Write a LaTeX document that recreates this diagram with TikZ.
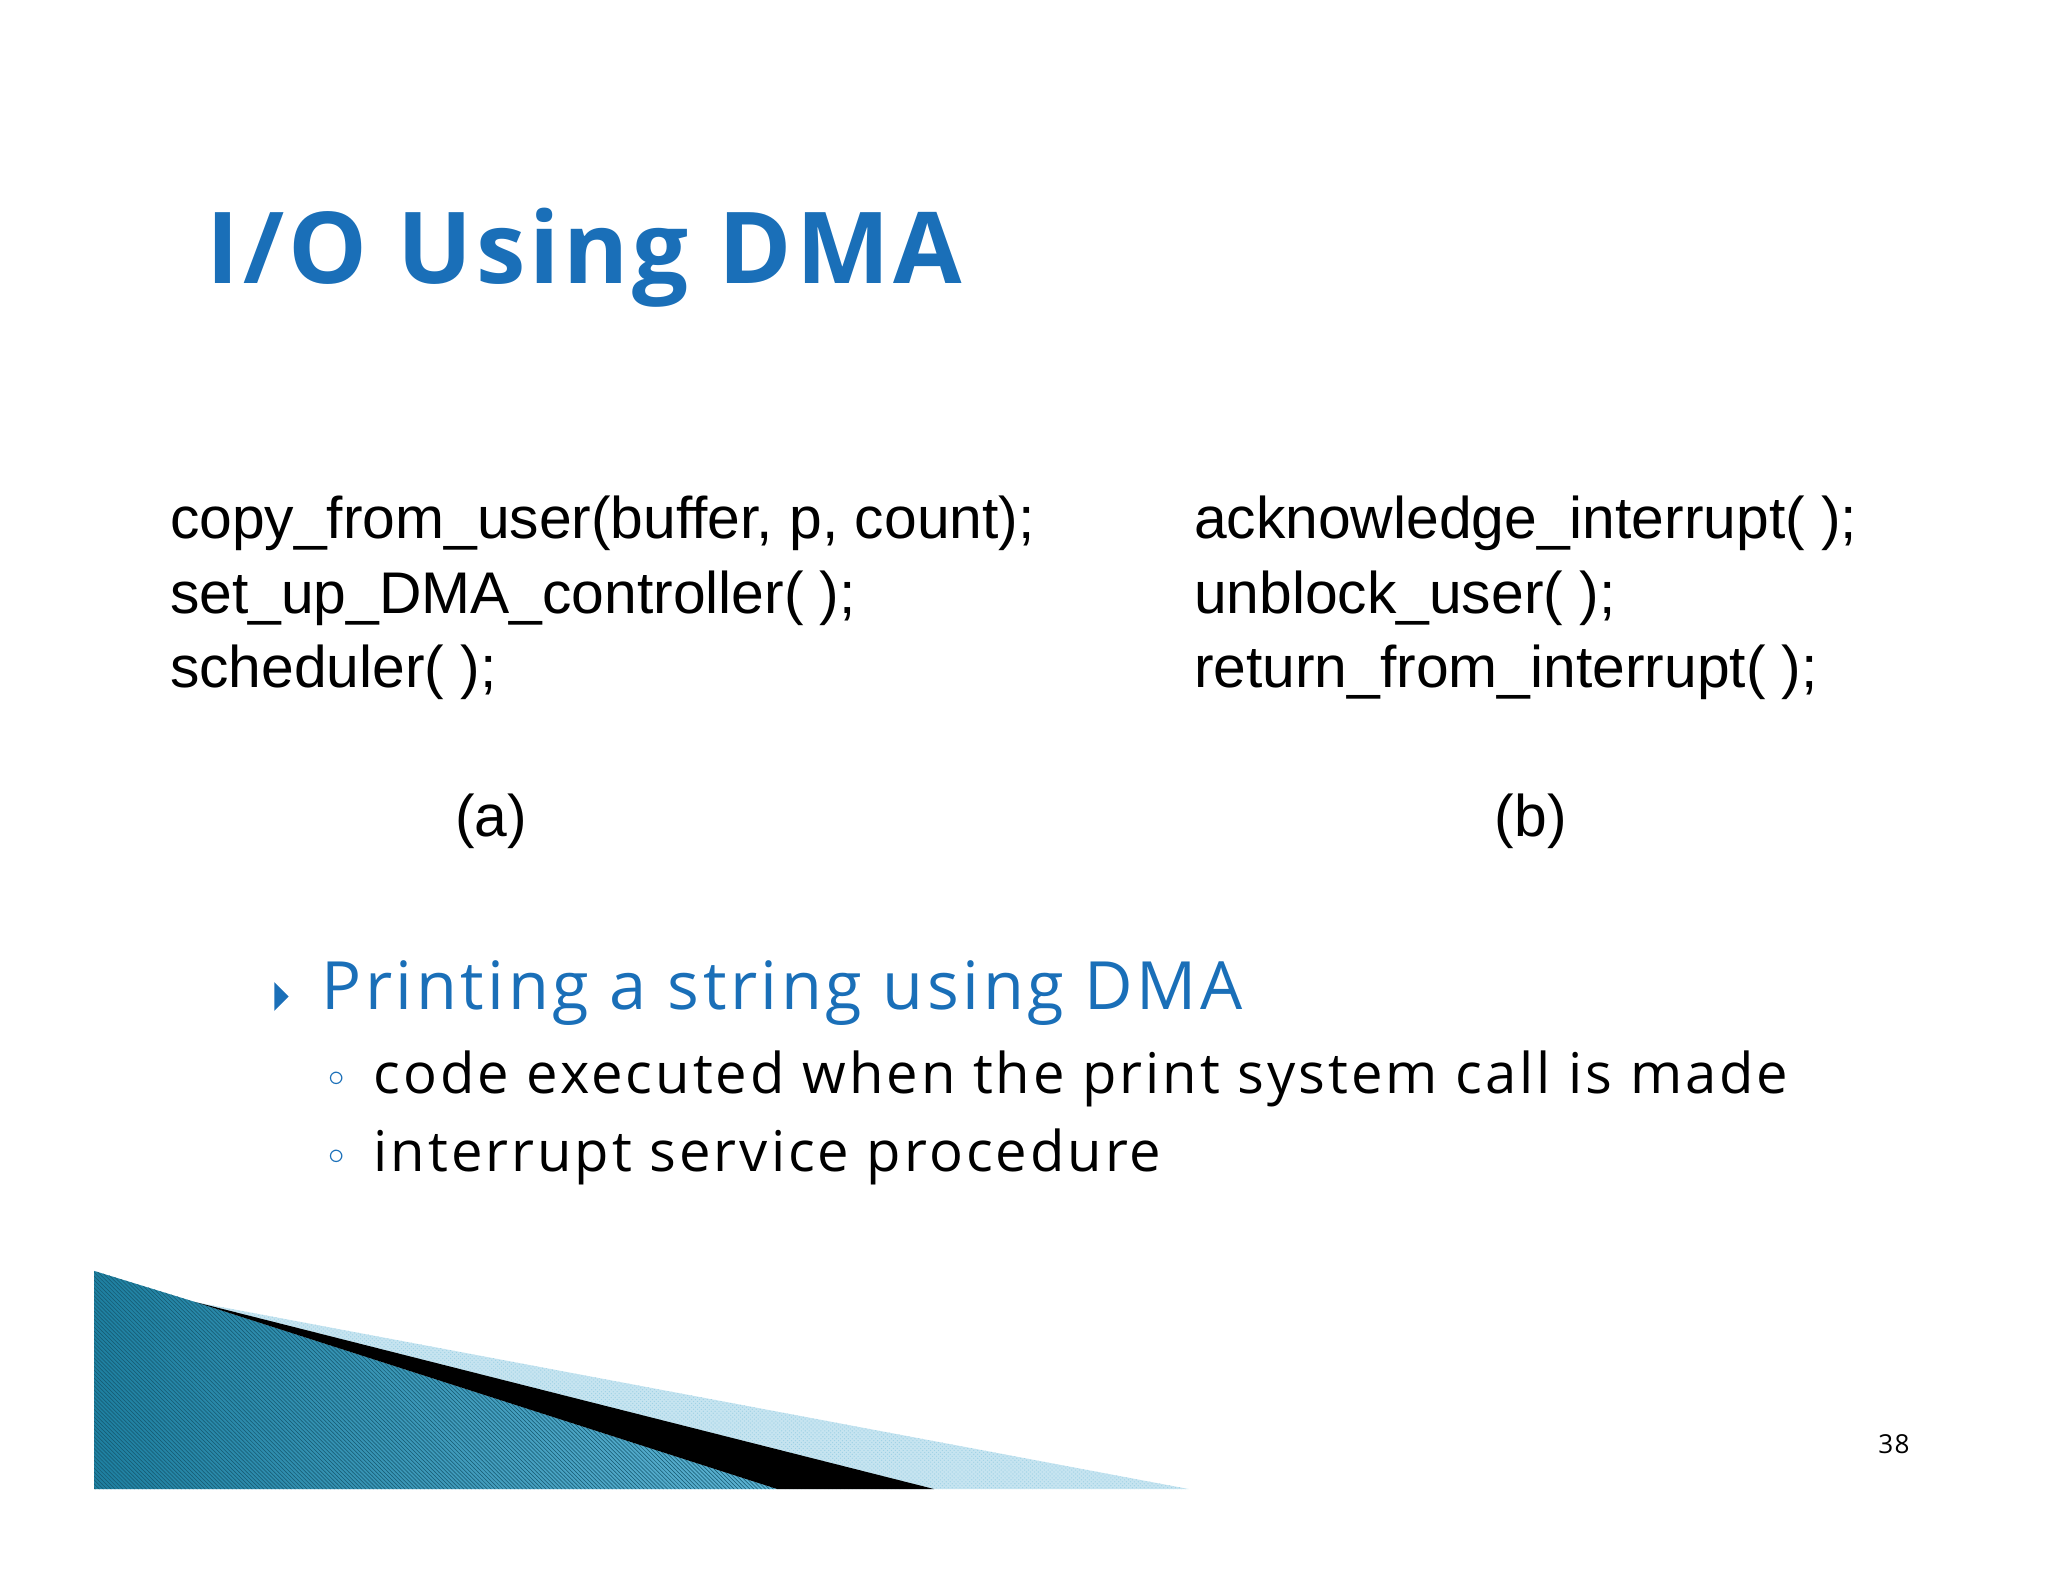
\documentclass[tikz,border=0pt]{standalone}
\usepackage{fontspec}
\setmainfont{Open Sans}[LetterSpace=5.3]
\newfontfamily\titlefont{Open Sans}[LetterSpace=4]
\newfontfamily\codefont{Liberation Sans}
\usetikzlibrary{patterns}
\definecolor{ttl}{HTML}{1A6FB8}
\definecolor{teal1}{HTML}{1E7FA0}
\definecolor{teal2}{HTML}{5DB3D3}
\tikzset{code/.style={anchor=west,inner sep=0pt,font=\codefont\fontsize{45}{57}\selectfont,align=left},
 sub/.style={anchor=west,inner sep=0pt,font=\fontsize{43}{50}\selectfont}}
\begin{document}
\begin{tikzpicture}[x=1pt,y=1pt]
\useasboundingbox (0,0) rectangle (1568,-1211);
\node[anchor=west,inner sep=0pt,text=ttl,font=\titlefont\bfseries\fontsize{76}{100}\selectfont] (title) at (158,-197) {I/O Using DMA};
\node[code] (ca) at (130,-458) {\parbox[c]{800pt}{copy\_from\_user(buffer, p, count);\\set\_up\_DMA\_controller( );\\scheduler( );}};
\node[code] (cb) at (914,-458) {\parbox[c]{800pt}{acknowledge\_interrupt( );\\unblock\_user( );\\return\_from\_interrupt( );}};
\node[inner sep=0pt,font=\codefont\fontsize{45}{57}\selectfont] (la) at (376,-629) {(a)};
\node[inner sep=0pt,font=\codefont\fontsize{45}{57}\selectfont] (lb) at (1172,-629) {(b)};
\fill[ttl] (210,-752) -- (221,-763) -- (210,-774) -- cycle;
\node[anchor=west,inner sep=0pt,text=ttl,font=\fontsize{51}{60}\selectfont] (b1) at (246,-760) {Printing a string using DMA};
\node[text=ttl,font=\fontsize{24}{24}\selectfont] at (258,-826) {$\circ$};
\node[sub] (s1) at (286,-826) {code executed when the print system call is made};
\node[text=ttl,font=\fontsize{24}{24}\selectfont] at (258,-886) {$\circ$};
\node[sub] (s2) at (286,-886) {interrupt service procedure};
% decoration
\fill[teal2!35] (150,-997) -- (910,-1140) -- (72,-1140) -- cycle;
\fill[pattern=crosshatch dots,pattern color=teal2!60] (150,-997) -- (910,-1140) -- (600,-1140) -- cycle;
\shade[left color=teal1,right color=teal2] (72,-973) -- (150,-997) -- (595,-1140) -- (72,-1140) -- cycle;
\fill[pattern=north west lines,pattern color=teal1!70!black] (72,-973) -- (150,-997) -- (595,-1140) -- (72,-1140) -- cycle;
\fill[black] (150,-997) -- (715,-1140) -- (595,-1140) -- cycle;
\node[inner sep=0pt,font=\fontsize{20}{20}\selectfont] (pg) at (1450,-1106) {38};
\end{tikzpicture}
\end{document}
